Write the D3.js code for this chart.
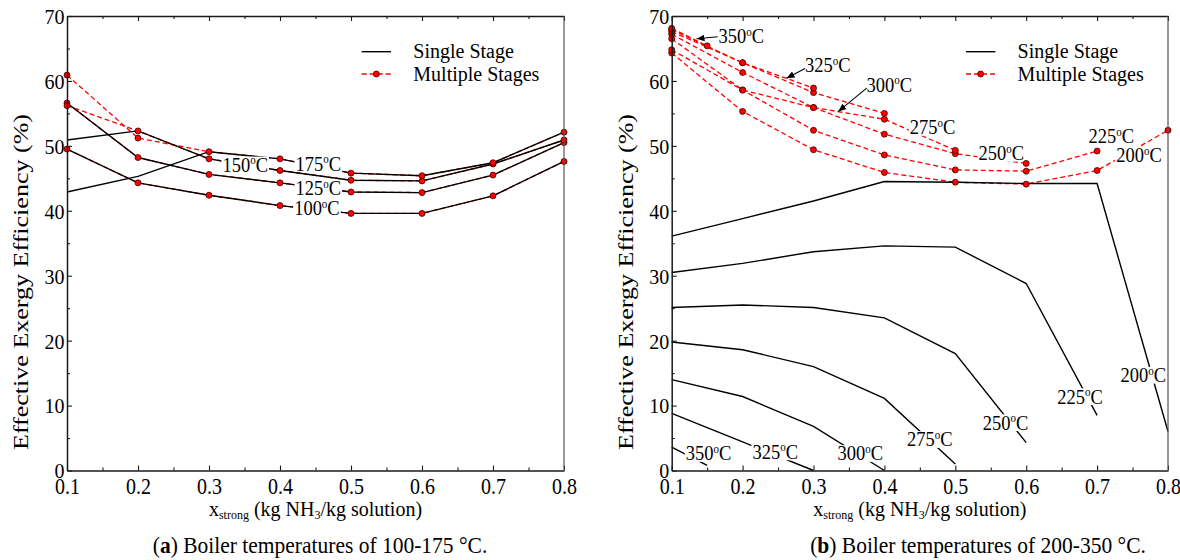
<!DOCTYPE html>
<html><head><meta charset="utf-8">
<script src="https://cdn.jsdelivr.net/npm/d3@7"></script>
<style>
body{margin:0;background:#fff}
text{font-family:"Liberation Serif","Times New Roman",serif;fill:#000}
</style>
</head><body>
<svg id="c" width="1180" height="560"></svg>
<script>
// ---------- ticks ----------
const xTicks = [0.1,0.2,0.3,0.4,0.5,0.6,0.7,0.8];
const xMinor = [0.15,0.25,0.35,0.45,0.55,0.65,0.75];
const yTicks = [0,10,20,30,40,50,60,70];
const yMinor = [5,15,25,35,45,55,65];

// ---------- panel (a): 100-175 C ----------
const xStrong = [0.1,0.2,0.3,0.4,0.5,0.6,0.7,0.8];
const aSingle100 = [49.5,44.3,42.4,40.8,39.6,39.6,42.3,47.6];
const aSingle125 = [56.6,48.2,45.6,44.3,42.9,42.8,45.5,50.5];
const aSingle150 = [50.9,52.3,48.0,46.2,44.7,44.6,47.2,50.9];
const aSingle175 = [42.9,45.3,49.1,48.0,45.8,45.4,47.4,52.1];
const aMulti100  = [49.5,44.3,42.4,40.8,39.6,39.6,42.3,47.6];
const aMulti125  = [56.6,48.2,45.6,44.3,42.9,42.8,45.5,50.5];
const aMulti150  = [56.2,52.3,48.0,46.2,44.7,44.6,47.2,50.9];
const aMulti175  = [60.9,51.2,49.1,48.0,45.8,45.4,47.4,52.1];

// ---------- panel (b): 200-350 C ----------
const bX200 = [0.1,0.2,0.3,0.4,0.5,0.6,0.7,0.8];
const bX225 = [0.1,0.2,0.3,0.4,0.5,0.6,0.7];
const bX250 = [0.1,0.2,0.3,0.4,0.5,0.6];
const bX275 = [0.1,0.2,0.3,0.4,0.5];
const bX300 = [0.1,0.2,0.3,0.4];
const bX325 = [0.1,0.2,0.3];
const bX350 = [0.1,0.15];
const bSingle200 = [36.1,38.8,41.5,44.5,44.4,44.2,44.2,6.0];
const bSingle225 = [30.5,31.9,33.7,34.6,34.4,28.8,8.5];
const bSingle250 = [25.1,25.5,25.1,23.5,18.0,4.3];
const bSingle275 = [19.8,18.6,16.0,11.1,1.0];
const bSingle300 = [14.0,11.4,6.8,0.0];
const bSingle325 = [8.8,4.4,0.0];
const bSingle350 = [3.6,0.8];
const bMulti200 = [64.3,55.3,49.4,45.9,44.4,44.1,46.2,52.4];
const bMulti225 = [64.8,58.6,52.4,48.6,46.3,46.1,49.2];
const bMulti250 = [66.5,58.6,55.9,51.8,48.8,47.3];
const bMulti275 = [67.2,61.3,55.9,54.1,49.3];
const bMulti300 = [67.6,62.8,58.2,55.0];
const bMulti325 = [67.9,62.8,58.9];
const bMulti350 = [68.1,65.4];

// ---------- annotations (data coordinates) ----------
const aLabels = [
  {t:"150", x:0.351, y:47.1}, {t:"175", x:0.454, y:47.3},
  {t:"125", x:0.454, y:43.5}, {t:"100", x:0.452, y:40.4}
];
const bLabels = [
  {t:"350", x:0.198, y:66.9}, {t:"325", x:0.320, y:62.45}, {t:"300", x:0.407, y:59.4},
  {t:"275", x:0.468, y:52.9}, {t:"250", x:0.565, y:48.9}, {t:"225", x:0.720, y:51.5},
  {t:"200", x:0.759, y:48.6},
  {t:"350", x:0.152, y:2.65}, {t:"325", x:0.246, y:2.9}, {t:"300", x:0.366, y:2.65},
  {t:"275", x:0.464, y:4.8}, {t:"250", x:0.571, y:7.4}, {t:"225", x:0.676, y:11.4},
  {t:"200", x:0.765, y:14.7}
];
const bArrows = [
  {x1:0.165, y1:66.8, x2:0.135, y2:66.5},
  {x1:0.288, y1:61.9, x2:0.262, y2:60.4},
  {x1:0.375, y1:58.9, x2:0.335, y2:55.3}
];

const SY = 1.15;
const SL = 1.08;
const svg = d3.select("#c");
svg.append("rect").attr("width",1180).attr("height",560).attr("fill","#fff");
svg.append("defs").append("marker").attr("id","ah").attr("viewBox","0 0 10 10")
  .attr("refX",10).attr("refY",5).attr("markerWidth",8).attr("markerHeight",8)
  .attr("markerUnits","userSpaceOnUse").attr("orient","auto")
  .append("path").attr("d","M0,0.8 L10,5 L0,9.2 Z").attr("fill","#000");

const y = d3.scaleLinear().domain([0,70]).range([470.5,16]);

const panels = [
  {left:67, right:564,
   single:[[xStrong,aSingle100],[xStrong,aSingle125],[xStrong,aSingle150],[xStrong,aSingle175]],
   multi:[[xStrong,aMulti100],[xStrong,aMulti125],[xStrong,aMulti150],[xStrong,aMulti175]],
   labels:aLabels, arrows:[], legX:361.7, titleX:28, capX:320,
   cap:"a", capText:") Boiler temperatures of 100-175 °C."},
  {left:671.7, right:1168,
   single:[[bX200,bSingle200],[bX225,bSingle225],[bX250,bSingle250],[bX275,bSingle275],[bX300,bSingle300],[bX325,bSingle325],[bX350,bSingle350]],
   multi:[[bX200,bMulti200],[bX225,bMulti225],[bX250,bMulti250],[bX275,bMulti275],[bX300,bMulti300],[bX325,bMulti325],[bX350,bMulti350]],
   labels:bLabels, arrows:bArrows, legX:966, titleX:633, capX:978,
   cap:"b", capText:") Boiler temperatures of 200-350 °C."}
];

function tempLabel(g, px, py, t){
  const gg = g.append("g").attr("transform",`translate(${px},${py}) scale(1,${SL})`);
  const txt = gg.append("text").attr("text-anchor","middle").attr("y",6.6).style("font-size","18.5px");
  txt.append("tspan").text(t);
  txt.append("tspan").style("font-size","11px").attr("dy",-7).text("o");
  txt.append("tspan").attr("dy",7).text("C");
  const bb = txt.node().getBBox();
  gg.insert("rect","text").attr("x",bb.x-1).attr("y",bb.y+2.5).attr("width",bb.width+2)
    .attr("height",bb.height-5).attr("fill","#fff");
}

panels.forEach(p => {
  const g = svg.append("g");
  const x = d3.scaleLinear().domain([0.1,0.8]).range([p.left,p.right]);
  const line = d3.line().x(d=>x(d[0])).y(d=>y(d[1]));

  p.multi.forEach(s => g.append("path").datum(d3.zip(s[0],s[1])).attr("d",line)
    .attr("fill","none").attr("stroke","#ff0000").attr("stroke-width",1.3).attr("stroke-dasharray","5,3"));
  p.single.forEach(s => g.append("path").datum(d3.zip(s[0],s[1])).attr("d",line)
    .attr("fill","none").attr("stroke","#000").attr("stroke-width",1.4));

  p.labels.forEach(l => tempLabel(g, x(l.x), y(l.y), l.t));

  p.multi.forEach(s => g.selectAll(null).data(d3.zip(s[0],s[1])).enter().append("circle")
    .attr("cx",d=>x(d[0])).attr("cy",d=>y(d[1])).attr("r",3)
    .attr("fill","#ff0000").attr("stroke","#3a0000").attr("stroke-width",0.8));

  p.arrows.forEach(a => g.append("line").attr("x1",x(a.x1)).attr("y1",y(a.y1))
    .attr("x2",x(a.x2)).attr("y2",y(a.y2)).attr("stroke","#000").attr("stroke-width",1.1)
    .attr("marker-end","url(#ah)"));

  // axes
  const fmt = d3.format(".1f");
  const bx = g.append("g").attr("transform",`translate(0,${y(0)})`)
    .call(d3.axisBottom(x).tickValues(xTicks).tickSizeInner(-5).tickSizeOuter(0).tickFormat(fmt));
  bx.attr("font-family",null).attr("font-size",null);
  bx.selectAll(".tick text").attr("y",0).attr("dy",null).style("font-size","20px")
    .attr("transform",`translate(0,23.8) scale(1,${SY})`);
  g.append("g").attr("transform",`translate(0,${y(0)})`)
    .call(d3.axisBottom(x).tickValues(xMinor).tickSizeInner(-3).tickSizeOuter(0).tickFormat(""))
    .select(".domain").remove();
  g.append("g").attr("transform",`translate(0,${y(70)})`)
    .call(d3.axisTop(x).tickValues(xTicks).tickSizeInner(-5).tickSizeOuter(0).tickFormat(""));
  g.append("g").attr("transform",`translate(0,${y(70)})`)
    .call(d3.axisTop(x).tickValues(xMinor).tickSizeInner(-3).tickSizeOuter(0).tickFormat(""))
    .select(".domain").remove();
  const ly = g.append("g").attr("transform",`translate(${p.left},0)`)
    .call(d3.axisLeft(y).tickValues(yTicks).tickSizeInner(-5).tickSizeOuter(0));
  ly.attr("font-family",null).attr("font-size",null);
  ly.selectAll(".tick text").attr("x",null).attr("dy",null).style("font-size","20px")
    .attr("transform",`translate(-2.5,7.4) scale(1,1.1)`);
  g.append("g").attr("transform",`translate(${p.left},0)`)
    .call(d3.axisLeft(y).tickValues(yMinor).tickSizeInner(-3).tickSizeOuter(0).tickFormat(""))
    .select(".domain").remove();
  g.selectAll(".domain").attr("stroke-width",1.5).attr("stroke","#1a1a1a");
  g.selectAll(".tick line").attr("stroke","#1a1a1a").attr("stroke-width",1.1);
  g.append("line").attr("x1",p.right).attr("x2",p.right).attr("y1",y(0)).attr("y2",y(70))
    .attr("stroke","#555").attr("stroke-width",1.2);

  // axis titles
  const xt = g.append("text").attr("text-anchor","middle").style("font-size","20px")
    .attr("transform",`translate(${(p.left+p.right)/2},515.5) scale(1,1.06)`);
  xt.append("tspan").text("x");
  xt.append("tspan").style("font-size","12px").attr("dy",3).text("strong");
  xt.append("tspan").attr("dy",-3).text(" (kg NH");
  xt.append("tspan").style("font-size","12px").attr("dy",3).text("3");
  xt.append("tspan").attr("dy",-3).text("/kg solution)");

  g.append("text").attr("text-anchor","middle").style("font-size","21px")
    .attr("transform",`translate(${p.titleX},282) rotate(-90) scale(1.24,1)`)
    .text("Effective Exergy Efficiency (%)");

  // legend
  const lg = g.append("g");
  lg.append("line").attr("x1",p.legX).attr("x2",p.legX+29.3).attr("y1",51.7).attr("y2",51.7)
    .attr("stroke","#000").attr("stroke-width",1.4);
  lg.append("line").attr("x1",p.legX).attr("x2",p.legX+29.3).attr("y1",74).attr("y2",74)
    .attr("stroke","#ff0000").attr("stroke-width",1.3).attr("stroke-dasharray","5,3");
  lg.append("circle").attr("cx",p.legX+14.6).attr("cy",74).attr("r",3)
    .attr("fill","#ff0000").attr("stroke","#3a0000").attr("stroke-width",0.8);
  lg.append("text").attr("transform",`translate(${p.legX+51.6},58.3)`)
    .style("font-size","20px").text("Single Stage");
  lg.append("text").attr("transform",`translate(${p.legX+51.6},81)`)
    .style("font-size","20px").text("Multiple Stages");

  // caption
  const ct = g.append("text").attr("text-anchor","middle").style("font-size","21.5px")
    .attr("transform",`translate(${p.capX},553) scale(1,1.1)`);
  ct.append("tspan").text("(");
  ct.append("tspan").style("font-weight","bold").text(p.cap);
  ct.append("tspan").text(p.capText);
});
</script>
</body></html>
